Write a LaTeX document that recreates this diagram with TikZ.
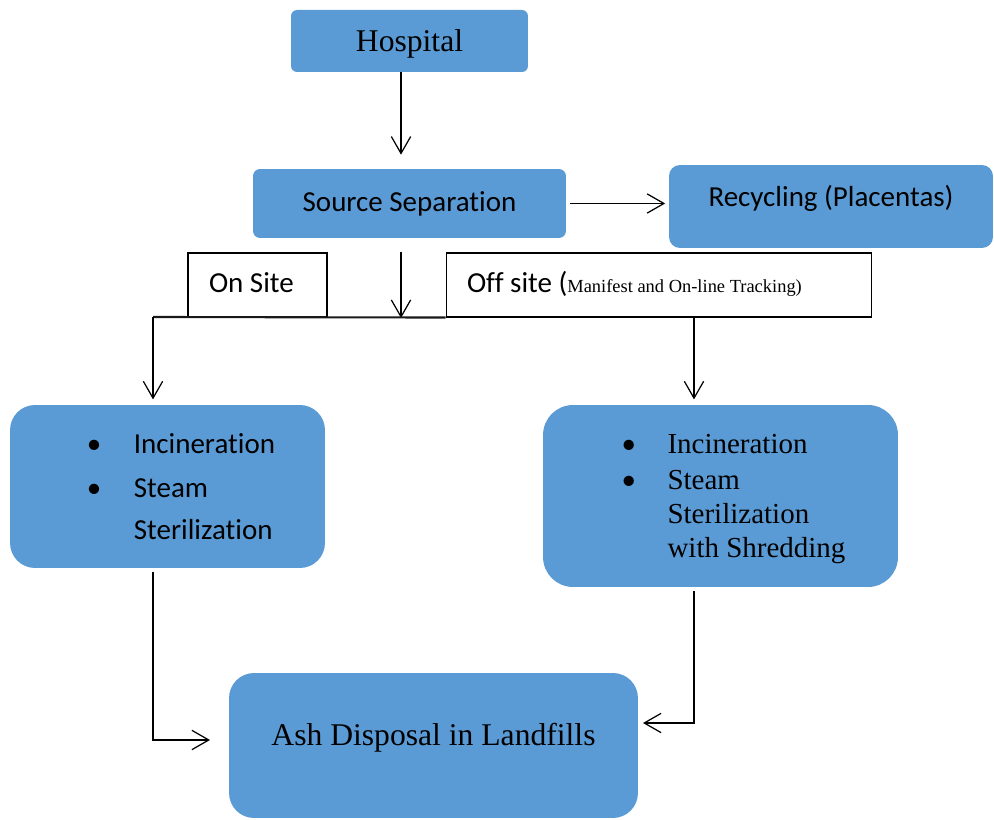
\documentclass[tikz,border=0pt]{standalone}
\usepackage{fontspec}
\setmainfont{Liberation Serif}
\newfontfamily\calibri[Ligatures=NoCommon]{Carlito}
\usetikzlibrary{arrows.meta}
\definecolor{officeblue}{HTML}{5B9BD5}

\begin{document}
\begin{tikzpicture}[
    x=0.02cm, y=-0.02cm,
    bluebox/.style={fill=officeblue},
    tagbox/.style={draw, fill=white, minimum height=1.28cm, align=flush left, inner xsep=0.42cm,
      text height=11pt, text depth=3pt, font=\calibri\fontsize{16.5}{20}\selectfont},
    flow/.style={-{Straight Barb[length=9.6pt,width=11pt]}, line width=0.7pt}
  ]
  \useasboundingbox (0,0) rectangle (994,820);

  \node[bluebox, rounded corners=0.12cm, minimum width=4.74cm, minimum height=1.24cm,
    text height=12pt, text depth=0.5pt,
    font=\fontsize{18}{21}\selectfont] (hospital) at (409.5,41) {Hospital};
  \node[bluebox, rounded corners=0.14cm, minimum width=6.26cm, minimum height=1.38cm,
    font=\calibri\fontsize{16.5}{20}\selectfont] (source) at (409.5,203.5) {Source Separation};
  \node[bluebox, rounded corners=0.22cm, minimum width=6.48cm, minimum height=1.66cm,
    text height=12pt, text depth=12pt,
    font=\calibri\fontsize{16.5}{20}\selectfont] (recycle) at (831,206.5) {Recycling (Placentas)};

  \node[tagbox, line width=1.2pt, minimum width=2.78cm, text width=1.94cm] (onsite) at (257.5,285) {On Site};
  \node[tagbox, line width=0.6pt, minimum width=8.52cm, text width=7.68cm] (offsite) at (659,285)
    {Off site ({\rmfamily\fontsize{10.5}{12}\selectfont Manifest and On-line Tracking)}};

  \node[bluebox, rounded corners=0.5cm, minimum width=6.3cm, minimum height=3.26cm, align=flush left,
    font=\calibri\fontsize{16.5}{24.1}\selectfont] (onproc) at (167.5,486.5)
    {\hspace*{0.54cm}\makebox[0.94cm][l]{\textbullet}Incineration\\[1pt]
     \hspace*{0.54cm}\makebox[0.94cm][l]{\textbullet}Steam\\
     \hspace*{1.48cm}Sterilization};
  \node[bluebox, rounded corners=0.6cm, minimum width=7.1cm, minimum height=3.64cm, align=flush left,
    text depth=0pt, font=\fontsize{16.5}{19.3}\selectfont] (offproc) at (720.5,496)
    {\hspace*{0.52cm}\makebox[0.92cm][l]{\calibri\textbullet}Incineration\\[1.1pt]
     \hspace*{0.52cm}\makebox[0.92cm][l]{\calibri\textbullet}Steam\\
     \hspace*{1.44cm}Sterilization\\
     \hspace*{1.44cm}with Shredding};

  \node[bluebox, rounded corners=0.5cm, minimum width=8.18cm, minimum height=2.9cm,
    text height=14pt, text depth=14pt,
    font=\fontsize{18}{21}\selectfont] (ash) at (433.5,745.5) {Ash Disposal in Landfills};

  \coordinate (trunk) at (401,0);
  \coordinate (lbranch) at (153,317);
  \coordinate (rbranch) at (694,317);
  \coordinate (ashleft) at (210,740);
  \coordinate (ashright) at (643,723);

  \draw[flow, shorten >=0.28cm] (hospital.south -| trunk) -- (source.north -| trunk);
  \draw[flow, shorten <=2pt, shorten >=2pt] (source.east) -- (recycle.west |- source.east);
  \draw[flow] (trunk |- onsite.north) -- (trunk |- onsite.south);
  \draw[line width=1.2pt, black!90] (offsite.south west) -- (lbranch);
  \draw[flow, shorten >=3pt] (lbranch) -- (lbranch |- onproc.north);
  \draw[flow, shorten >=3pt] (rbranch) -- (rbranch |- offproc.north);
  \draw[flow, shorten <=2pt] (lbranch |- onproc.south) |- (ashleft);
  \draw[flow, shorten <=2pt] (rbranch |- offproc.south) |- (ashright);
\end{tikzpicture}
\end{document}
